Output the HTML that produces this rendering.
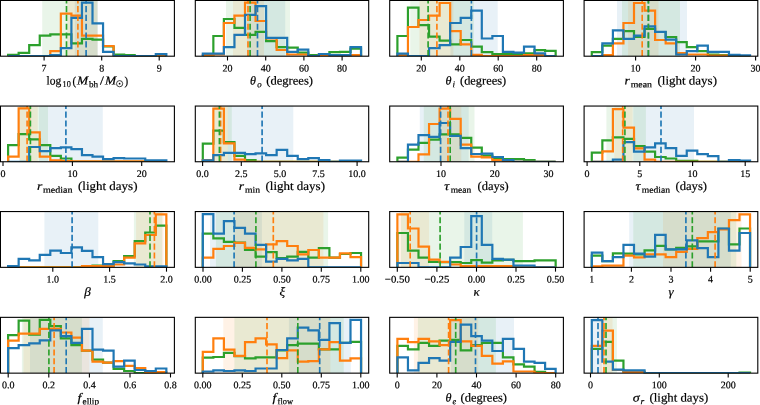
<!DOCTYPE html>
<html><head><meta charset="utf-8"><title>posterior histograms</title>
<style>
html,body{margin:0;padding:0;background:#fff;}
body{width:760px;height:405px;overflow:hidden;}
svg{display:block;font-family:"Liberation Serif",serif;fill:#000;}
svg text{fill:#000;stroke:#000;stroke-width:0.2px;filter:grayscale(1);}
</style></head><body>
<svg width="760" height="405" viewBox="0 0 760 405">
<rect x="0" y="0" width="760" height="405" fill="#fff"/>
<defs>
<clipPath id="c00"><rect x="0.45" y="0.45" width="173.95" height="55.75"/></clipPath>
<clipPath id="c01"><rect x="195.3" y="0.45" width="173.4" height="55.75"/></clipPath>
<clipPath id="c02"><rect x="389.7" y="0.45" width="173.7" height="55.75"/></clipPath>
<clipPath id="c03"><rect x="584.1" y="0.45" width="173.7" height="55.75"/></clipPath>
<clipPath id="c10"><rect x="0.45" y="106.05" width="173.95" height="55.7"/></clipPath>
<clipPath id="c11"><rect x="195.3" y="106.05" width="173.4" height="55.7"/></clipPath>
<clipPath id="c12"><rect x="389.7" y="106.05" width="173.7" height="55.7"/></clipPath>
<clipPath id="c13"><rect x="584.1" y="106.05" width="173.7" height="55.7"/></clipPath>
<clipPath id="c20"><rect x="0.45" y="211.55" width="173.95" height="55.8"/></clipPath>
<clipPath id="c21"><rect x="195.3" y="211.55" width="173.4" height="55.8"/></clipPath>
<clipPath id="c22"><rect x="389.7" y="211.55" width="173.7" height="55.8"/></clipPath>
<clipPath id="c23"><rect x="584.1" y="211.55" width="173.7" height="55.8"/></clipPath>
<clipPath id="c30"><rect x="0.45" y="317.35" width="173.95" height="55.8"/></clipPath>
<clipPath id="c31"><rect x="195.3" y="317.35" width="173.4" height="55.8"/></clipPath>
<clipPath id="c32"><rect x="389.7" y="317.35" width="173.7" height="55.8"/></clipPath>
<clipPath id="c33"><rect x="584.1" y="317.35" width="173.7" height="55.8"/></clipPath>
</defs>
<g clip-path="url(#c00)">
<rect x="74.8" y="0.45" width="22.9" height="55.75" fill="#1f77b4" fill-opacity="0.1"/>
<rect x="67.4" y="0.45" width="30.2" height="55.75" fill="#ff7f0e" fill-opacity="0.1"/>
<rect x="42.2" y="0.45" width="55.3" height="55.75" fill="#2ca02c" fill-opacity="0.1"/>
<path d="M8.1 56.2 L8.1 54.8 L18.65 54.8 L18.65 52.9 L29.2 52.9 L29.2 45.2 L39.75 45.2 L39.75 35.6 L50.3 35.6 L50.3 34.4 L60.85 34.4 L60.85 34.4 L71.4 34.4 L71.4 43.3 L81.95 43.3 L81.95 38.8 L92.5 38.8 L92.5 39.7 L103.05 39.7 L103.05 46.5 L113.6 46.5 L113.6 54.6 L124.15 54.6 L124.15 55.1 L134.7 55.1 L134.7 56.2 L145.25 56.2 L145.25 56.2 L155.8 56.2 L155.8 56.2 L166.35 56.2 L166.35 56.2" fill="none" stroke="#2ca02c" stroke-width="2.2" stroke-linejoin="miter"/>
<path d="M8.1 56.2 L8.1 56.2 L18.65 56.2 L18.65 56.2 L29.2 56.2 L29.2 56.2 L39.75 56.2 L39.75 56.2 L50.3 56.2 L50.3 51.1 L60.85 51.1 L60.85 13.6 L71.4 13.6 L71.4 15.6 L81.95 15.6 L81.95 35.6 L92.5 35.6 L92.5 35.6 L103.05 35.6 L103.05 46 L113.6 46 L113.6 56.2 L124.15 56.2 L124.15 56.2 L134.7 56.2 L134.7 56.2 L145.25 56.2 L145.25 56.2 L155.8 56.2 L155.8 56.2 L166.35 56.2 L166.35 56.2" fill="none" stroke="#ff7f0e" stroke-width="2.2" stroke-linejoin="miter"/>
<path d="M8.1 56.2 L8.1 56.2 L18.65 56.2 L18.65 56.2 L29.2 56.2 L29.2 56.2 L39.75 56.2 L39.75 56.2 L50.3 56.2 L50.3 55.1 L60.85 55.1 L60.85 48.1 L71.4 48.1 L71.4 17.8 L81.95 17.8 L81.95 2.7 L92.5 2.7 L92.5 23.4 L103.05 23.4 L103.05 51.9 L113.6 51.9 L113.6 56.2 L124.15 56.2 L124.15 56.2 L134.7 56.2 L134.7 56.2 L145.25 56.2 L145.25 56.2 L155.8 56.2 L155.8 54.1 L166.35 54.1 L166.35 56.2" fill="none" stroke="#1f77b4" stroke-width="2.2" stroke-linejoin="miter"/>
<line x1="86.1" y1="56.2" x2="86.1" y2="0.45" stroke="#1f77b4" stroke-width="1.66" stroke-dasharray="6.14 2.66"/>
<line x1="77.9" y1="56.2" x2="77.9" y2="0.45" stroke="#ff7f0e" stroke-width="1.66" stroke-dasharray="6.14 2.66"/>
<line x1="66.5" y1="56.2" x2="66.5" y2="0.45" stroke="#2ca02c" stroke-width="1.66" stroke-dasharray="6.14 2.66"/>
</g>
<rect x="0.45" y="0.45" width="173.95" height="55.75" fill="none" stroke="#000" stroke-width="1.1"/>
<line x1="44.1" y1="56.2" x2="44.1" y2="60.5" stroke="#000" stroke-width="1.1"/>
<text x="44.1" y="71.4" font-size="10.0" text-anchor="middle" transform="rotate(0.03 44.1 71.4)">7</text>
<line x1="101.7" y1="56.2" x2="101.7" y2="60.5" stroke="#000" stroke-width="1.1"/>
<text x="101.7" y="71.4" font-size="10.0" text-anchor="middle" transform="rotate(0.03 101.7 71.4)">8</text>
<line x1="159.2" y1="56.2" x2="159.2" y2="60.5" stroke="#000" stroke-width="1.1"/>
<text x="159.2" y="71.4" font-size="10.0" text-anchor="middle" transform="rotate(0.03 159.2 71.4)">9</text>
<text x="46.6" y="84.5" font-size="12.2" textLength="14.8" lengthAdjust="spacingAndGlyphs" transform="rotate(0.03 46.6 84.5)" xml:space="preserve">log</text>
<text x="62.6" y="87.31" font-size="8.91" textLength="8.2" lengthAdjust="spacingAndGlyphs" transform="rotate(0.03 62.6 87.31)" xml:space="preserve">10</text>
<text x="72.52" y="84.5" font-size="12.2" textLength="3.66" lengthAdjust="spacingAndGlyphs" transform="rotate(0.03 72.52 84.5)" xml:space="preserve">(</text>
<text x="77" y="84.5" font-size="12.2" font-style="italic" textLength="11.2" lengthAdjust="spacingAndGlyphs" transform="rotate(0.03 77 84.5)" xml:space="preserve">M</text>
<text x="89" y="87.31" font-size="8.91" textLength="9.2" lengthAdjust="spacingAndGlyphs" transform="rotate(0.03 89 87.31)" xml:space="preserve">bh</text>
<text x="99.95" y="84.5" font-size="12.2" textLength="3.9" lengthAdjust="spacingAndGlyphs" transform="rotate(0.03 99.95 84.5)" xml:space="preserve">/</text>
<text x="104.9" y="84.5" font-size="12.2" font-style="italic" textLength="11.2" lengthAdjust="spacingAndGlyphs" transform="rotate(0.03 104.9 84.5)" xml:space="preserve">M</text>
<circle cx="119.6" cy="83.7" r="3.1" fill="none" stroke="#000" stroke-width="0.75"/><circle cx="119.6" cy="83.7" r="0.85" fill="#000"/>
<text x="124.42" y="84.5" font-size="12.2" textLength="3.66" lengthAdjust="spacingAndGlyphs" transform="rotate(0.03 124.42 84.5)" xml:space="preserve">)</text>
<g clip-path="url(#c01)">
<rect x="247" y="0.45" width="38.2" height="55.75" fill="#1f77b4" fill-opacity="0.1"/>
<rect x="233" y="0.45" width="31" height="55.75" fill="#ff7f0e" fill-opacity="0.1"/>
<rect x="226" y="0.45" width="64" height="55.75" fill="#2ca02c" fill-opacity="0.1"/>
<path d="M202.8 56.2 L202.8 56.2 L213.35 56.2 L213.35 36 L223.9 36 L223.9 19 L234.45 19 L234.45 27.9 L245 27.9 L245 34.8 L255.55 34.8 L255.55 31.9 L266.1 31.9 L266.1 41.2 L276.65 41.2 L276.65 47.1 L287.2 47.1 L287.2 47.7 L297.75 47.7 L297.75 52.6 L308.3 52.6 L308.3 55 L318.85 55 L318.85 55.2 L329.4 55.2 L329.4 52.1 L339.95 52.1 L339.95 51.9 L350.5 51.9 L350.5 48.6 L361.05 48.6 L361.05 56.2" fill="none" stroke="#2ca02c" stroke-width="2.2" stroke-linejoin="miter"/>
<path d="M202.8 56.2 L202.8 55.1 L213.35 55.1 L213.35 54.5 L223.9 54.5 L223.9 23 L234.45 23 L234.45 15.6 L245 15.6 L245 2.7 L255.55 2.7 L255.55 21 L266.1 21 L266.1 38.5 L276.65 38.5 L276.65 50 L287.2 50 L287.2 54.5 L297.75 54.5 L297.75 54.5 L308.3 54.5 L308.3 56.2 L318.85 56.2 L318.85 55.2 L329.4 55.2 L329.4 56.2 L339.95 56.2 L339.95 56.2 L350.5 56.2 L350.5 55.2 L361.05 55.2 L361.05 56.2" fill="none" stroke="#ff7f0e" stroke-width="2.2" stroke-linejoin="miter"/>
<path d="M202.8 56.2 L202.8 53.6 L213.35 53.6 L213.35 53.6 L223.9 53.6 L223.9 47.1 L234.45 47.1 L234.45 34.8 L245 34.8 L245 14.8 L255.55 14.8 L255.55 6.2 L266.1 6.2 L266.1 37.8 L276.65 37.8 L276.65 37.8 L287.2 37.8 L287.2 51.9 L297.75 51.9 L297.75 49.6 L308.3 49.6 L308.3 56.2 L318.85 56.2 L318.85 54 L329.4 54 L329.4 55.1 L339.95 55.1 L339.95 55.1 L350.5 55.1 L350.5 47.1 L361.05 47.1 L361.05 56.2" fill="none" stroke="#1f77b4" stroke-width="2.2" stroke-linejoin="miter"/>
<line x1="257.5" y1="56.2" x2="257.5" y2="0.45" stroke="#1f77b4" stroke-width="1.66" stroke-dasharray="6.14 2.66"/>
<line x1="248" y1="56.2" x2="248" y2="0.45" stroke="#ff7f0e" stroke-width="1.66" stroke-dasharray="6.14 2.66"/>
<line x1="250.1" y1="56.2" x2="250.1" y2="0.45" stroke="#2ca02c" stroke-width="1.66" stroke-dasharray="6.14 2.66"/>
</g>
<rect x="195.3" y="0.45" width="173.4" height="55.75" fill="none" stroke="#000" stroke-width="1.1"/>
<line x1="227.5" y1="56.2" x2="227.5" y2="60.5" stroke="#000" stroke-width="1.1"/>
<text x="227.5" y="71.4" font-size="10.0" text-anchor="middle" transform="rotate(0.03 227.5 71.4)">20</text>
<line x1="265.7" y1="56.2" x2="265.7" y2="60.5" stroke="#000" stroke-width="1.1"/>
<text x="265.7" y="71.4" font-size="10.0" text-anchor="middle" transform="rotate(0.03 265.7 71.4)">40</text>
<line x1="303.9" y1="56.2" x2="303.9" y2="60.5" stroke="#000" stroke-width="1.1"/>
<text x="303.9" y="71.4" font-size="10.0" text-anchor="middle" transform="rotate(0.03 303.9 71.4)">60</text>
<line x1="342.1" y1="56.2" x2="342.1" y2="60.5" stroke="#000" stroke-width="1.1"/>
<text x="342.1" y="71.4" font-size="10.0" text-anchor="middle" transform="rotate(0.03 342.1 71.4)">80</text>
<text x="250" y="84.5" font-size="12.2" font-style="italic" textLength="6" lengthAdjust="spacingAndGlyphs" transform="rotate(0.03 250 84.5)" xml:space="preserve">θ</text>
<text x="257.3" y="87.31" font-size="8.91" font-style="italic" textLength="4.4" lengthAdjust="spacingAndGlyphs" transform="rotate(0.03 257.3 87.31)" xml:space="preserve">o</text>
<text x="266.2" y="84.5" font-size="12.2" textLength="46.8" lengthAdjust="spacingAndGlyphs" transform="rotate(0.03 266.2 84.5)" xml:space="preserve">(degrees)</text>
<g clip-path="url(#c02)">
<rect x="450.5" y="0.45" width="47.2" height="55.75" fill="#1f77b4" fill-opacity="0.1"/>
<rect x="419.4" y="0.45" width="34" height="55.75" fill="#ff7f0e" fill-opacity="0.1"/>
<rect x="410.2" y="0.45" width="63.7" height="55.75" fill="#2ca02c" fill-opacity="0.1"/>
<path d="M397.4 56.2 L397.4 36 L407.95 36 L407.95 7.7 L418.5 7.7 L418.5 25.2 L429.05 25.2 L429.05 36.7 L439.6 36.7 L439.6 40.7 L450.15 40.7 L450.15 44.4 L460.7 44.4 L460.7 40 L471.25 40 L471.25 46.7 L481.8 46.7 L481.8 52.1 L492.35 52.1 L492.35 54.1 L502.9 54.1 L502.9 54.1 L513.45 54.1 L513.45 54.1 L524 54.1 L524 53.3 L534.55 53.3 L534.55 50.1 L545.1 50.1 L545.1 50.8 L555.65 50.8 L555.65 56.2" fill="none" stroke="#2ca02c" stroke-width="2.2" stroke-linejoin="miter"/>
<path d="M397.4 56.2 L397.4 55.1 L407.95 55.1 L407.95 27 L418.5 27 L418.5 20 L429.05 20 L429.05 15.6 L439.6 15.6 L439.6 3 L450.15 3 L450.15 31.1 L460.7 31.1 L460.7 44.4 L471.25 44.4 L471.25 54.8 L481.8 54.8 L481.8 56.2 L492.35 56.2 L492.35 56.2 L502.9 56.2 L502.9 56.2 L513.45 56.2 L513.45 56.2 L524 56.2 L524 55.2 L534.55 55.2 L534.55 55.2 L545.1 55.2 L545.1 56.2 L555.65 56.2 L555.65 56.2" fill="none" stroke="#ff7f0e" stroke-width="2.2" stroke-linejoin="miter"/>
<path d="M397.4 56.2 L397.4 53.6 L407.95 53.6 L407.95 56.2 L418.5 56.2 L418.5 56.2 L429.05 56.2 L429.05 48.1 L439.6 48.1 L439.6 45.2 L450.15 45.2 L450.15 23 L460.7 23 L460.7 17.8 L471.25 17.8 L471.25 10.7 L481.8 10.7 L481.8 38.5 L492.35 38.5 L492.35 36 L502.9 36 L502.9 51.9 L513.45 51.9 L513.45 52.6 L524 52.6 L524 46.7 L534.55 46.7 L534.55 53.3 L545.1 53.3 L545.1 56.2 L555.65 56.2 L555.65 56.2" fill="none" stroke="#1f77b4" stroke-width="2.2" stroke-linejoin="miter"/>
<line x1="471.4" y1="56.2" x2="471.4" y2="0.45" stroke="#1f77b4" stroke-width="1.66" stroke-dasharray="6.14 2.66"/>
<line x1="436.9" y1="56.2" x2="436.9" y2="0.45" stroke="#ff7f0e" stroke-width="1.66" stroke-dasharray="6.14 2.66"/>
<line x1="428.1" y1="56.2" x2="428.1" y2="0.45" stroke="#2ca02c" stroke-width="1.66" stroke-dasharray="6.14 2.66"/>
</g>
<rect x="389.7" y="0.45" width="173.7" height="55.75" fill="none" stroke="#000" stroke-width="1.1"/>
<line x1="421.3" y1="56.2" x2="421.3" y2="60.5" stroke="#000" stroke-width="1.1"/>
<text x="421.3" y="71.4" font-size="10.0" text-anchor="middle" transform="rotate(0.03 421.3 71.4)">20</text>
<line x1="459.8" y1="56.2" x2="459.8" y2="60.5" stroke="#000" stroke-width="1.1"/>
<text x="459.8" y="71.4" font-size="10.0" text-anchor="middle" transform="rotate(0.03 459.8 71.4)">40</text>
<line x1="498.2" y1="56.2" x2="498.2" y2="60.5" stroke="#000" stroke-width="1.1"/>
<text x="498.2" y="71.4" font-size="10.0" text-anchor="middle" transform="rotate(0.03 498.2 71.4)">60</text>
<line x1="536.7" y1="56.2" x2="536.7" y2="60.5" stroke="#000" stroke-width="1.1"/>
<text x="536.7" y="71.4" font-size="10.0" text-anchor="middle" transform="rotate(0.03 536.7 71.4)">80</text>
<text x="445.5" y="84.5" font-size="12.2" font-style="italic" textLength="6" lengthAdjust="spacingAndGlyphs" transform="rotate(0.03 445.5 84.5)" xml:space="preserve">θ</text>
<text x="452.5" y="87.31" font-size="8.91" font-style="italic" textLength="2.5" lengthAdjust="spacingAndGlyphs" transform="rotate(0.03 452.5 87.31)" xml:space="preserve">i</text>
<text x="460" y="84.5" font-size="12.2" textLength="46.2" lengthAdjust="spacingAndGlyphs" transform="rotate(0.03 460 84.5)" xml:space="preserve">(degrees)</text>
<g clip-path="url(#c03)">
<rect x="617" y="0.45" width="70" height="55.75" fill="#1f77b4" fill-opacity="0.1"/>
<rect x="628.1" y="0.45" width="30.4" height="55.75" fill="#ff7f0e" fill-opacity="0.1"/>
<rect x="622" y="0.45" width="58" height="55.75" fill="#2ca02c" fill-opacity="0.1"/>
<path d="M591.8 56.2 L591.8 52.1 L602.35 52.1 L602.35 45.6 L612.9 45.6 L612.9 38.8 L623.45 38.8 L623.45 31.1 L634 31.1 L634 37 L644.55 37 L644.55 28.9 L655.1 28.9 L655.1 32 L665.65 32 L665.65 37 L676.2 37 L676.2 42.2 L686.75 42.2 L686.75 47.1 L697.3 47.1 L697.3 51.1 L707.85 51.1 L707.85 54.5 L718.4 54.5 L718.4 55.2 L728.95 55.2 L728.95 56.2 L739.5 56.2 L739.5 56.2 L750.05 56.2 L750.05 56.2" fill="none" stroke="#2ca02c" stroke-width="2.2" stroke-linejoin="miter"/>
<path d="M591.8 56.2 L591.8 56.2 L602.35 56.2 L602.35 55.1 L612.9 55.1 L612.9 43.3 L623.45 43.3 L623.45 23 L634 23 L634 3 L644.55 3 L644.55 10.7 L655.1 10.7 L655.1 40 L665.65 40 L665.65 43.3 L676.2 43.3 L676.2 53 L686.75 53 L686.75 54.5 L697.3 54.5 L697.3 54.5 L707.85 54.5 L707.85 55.5 L718.4 55.5 L718.4 55.5 L728.95 55.5 L728.95 56.2 L739.5 56.2 L739.5 56.2 L750.05 56.2 L750.05 56.2" fill="none" stroke="#ff7f0e" stroke-width="2.2" stroke-linejoin="miter"/>
<path d="M591.8 56.2 L591.8 56.2 L602.35 56.2 L602.35 43.3 L612.9 43.3 L612.9 30.4 L623.45 30.4 L623.45 38.8 L634 38.8 L634 35.6 L644.55 35.6 L644.55 26.4 L655.1 26.4 L655.1 31.9 L665.65 31.9 L665.65 39.7 L676.2 39.7 L676.2 54.5 L686.75 54.5 L686.75 51.1 L697.3 51.1 L697.3 45.6 L707.85 45.6 L707.85 51.9 L718.4 51.9 L718.4 51.9 L728.95 51.9 L728.95 54.8 L739.5 54.8 L739.5 55.4 L750.05 55.4 L750.05 56.2" fill="none" stroke="#1f77b4" stroke-width="2.2" stroke-linejoin="miter"/>
<line x1="648.4" y1="56.2" x2="648.4" y2="0.45" stroke="#1f77b4" stroke-width="1.66" stroke-dasharray="6.14 2.66"/>
<line x1="642.2" y1="56.2" x2="642.2" y2="0.45" stroke="#ff7f0e" stroke-width="1.66" stroke-dasharray="6.14 2.66"/>
<line x1="648.4" y1="56.2" x2="648.4" y2="0.45" stroke="#2ca02c" stroke-width="1.66" stroke-dasharray="6.14 2.66"/>
</g>
<rect x="584.1" y="0.45" width="173.7" height="55.75" fill="none" stroke="#000" stroke-width="1.1"/>
<line x1="635.6" y1="56.2" x2="635.6" y2="60.5" stroke="#000" stroke-width="1.1"/>
<text x="635.6" y="71.4" font-size="10.0" text-anchor="middle" transform="rotate(0.03 635.6 71.4)">10</text>
<line x1="695.6" y1="56.2" x2="695.6" y2="60.5" stroke="#000" stroke-width="1.1"/>
<text x="695.6" y="71.4" font-size="10.0" text-anchor="middle" transform="rotate(0.03 695.6 71.4)">20</text>
<line x1="755.6" y1="56.2" x2="755.6" y2="60.5" stroke="#000" stroke-width="1.1"/>
<text x="755.6" y="71.4" font-size="10.0" text-anchor="middle" transform="rotate(0.03 755.6 71.4)">30</text>
<text x="624.5" y="84.5" font-size="12.2" font-style="italic" textLength="5.3" lengthAdjust="spacingAndGlyphs" transform="rotate(0.03 624.5 84.5)" xml:space="preserve">r</text>
<text x="630.7" y="87.31" font-size="8.91" textLength="21.3" lengthAdjust="spacingAndGlyphs" transform="rotate(0.03 630.7 87.31)" xml:space="preserve">mean</text>
<text x="657.5" y="84.5" font-size="12.2" textLength="59.5" lengthAdjust="spacingAndGlyphs" transform="rotate(0.03 657.5 84.5)" xml:space="preserve">(light days)</text>
<g clip-path="url(#c10)">
<rect x="38.9" y="106.05" width="63.9" height="55.7" fill="#1f77b4" fill-opacity="0.1"/>
<rect x="19.5" y="106.05" width="18.3" height="55.7" fill="#ff7f0e" fill-opacity="0.1"/>
<rect x="19.5" y="106.05" width="28.5" height="55.7" fill="#2ca02c" fill-opacity="0.1"/>
<path d="M8.1 161.75 L8.1 145.2 L18.65 145.2 L18.65 134.1 L29.2 134.1 L29.2 139.3 L39.75 139.3 L39.75 145.2 L50.3 145.2 L50.3 155.9 L60.85 155.9 L60.85 158.5 L71.4 158.5 L71.4 161.75 L81.95 161.75 L81.95 161.75 L92.5 161.75 L92.5 161.75 L103.05 161.75 L103.05 161.75 L113.6 161.75 L113.6 161.75 L124.15 161.75 L124.15 161.75 L134.7 161.75 L134.7 161.75 L145.25 161.75 L145.25 161.75 L155.8 161.75 L155.8 161.75 L166.35 161.75 L166.35 161.75" fill="none" stroke="#2ca02c" stroke-width="2.2" stroke-linejoin="miter"/>
<path d="M8.1 161.75 L8.1 156.6 L18.65 156.6 L18.65 108.4 L29.2 108.4 L29.2 132.4 L39.75 132.4 L39.75 156.6 L50.3 156.6 L50.3 160.3 L60.85 160.3 L60.85 161.2 L71.4 161.2 L71.4 161.3 L81.95 161.3 L81.95 161.3 L92.5 161.3 L92.5 161.3 L103.05 161.3 L103.05 161.3 L113.6 161.3 L113.6 161.3 L124.15 161.3 L124.15 161.3 L134.7 161.3 L134.7 161.3 L145.25 161.3 L145.25 161.75 L155.8 161.75 L155.8 161.75 L166.35 161.75 L166.35 161.75" fill="none" stroke="#ff7f0e" stroke-width="2.2" stroke-linejoin="miter"/>
<path d="M8.1 161.75 L8.1 161.75 L18.65 161.75 L18.65 161.75 L29.2 161.75 L29.2 147 L39.75 147 L39.75 151.1 L50.3 151.1 L50.3 148.1 L60.85 148.1 L60.85 147.3 L71.4 147.3 L71.4 149.2 L81.95 149.2 L81.95 155.1 L92.5 155.1 L92.5 156.6 L103.05 156.6 L103.05 159.1 L113.6 159.1 L113.6 158.1 L124.15 158.1 L124.15 158.5 L134.7 158.5 L134.7 158.5 L145.25 158.5 L145.25 160.3 L155.8 160.3 L155.8 160.3 L166.35 160.3 L166.35 161.75" fill="none" stroke="#1f77b4" stroke-width="2.2" stroke-linejoin="miter"/>
<line x1="65.9" y1="161.75" x2="65.9" y2="106.05" stroke="#1f77b4" stroke-width="1.66" stroke-dasharray="6.14 2.66"/>
<line x1="27.1" y1="161.75" x2="27.1" y2="106.05" stroke="#ff7f0e" stroke-width="1.66" stroke-dasharray="6.14 2.66"/>
<line x1="30.4" y1="161.75" x2="30.4" y2="106.05" stroke="#2ca02c" stroke-width="1.66" stroke-dasharray="6.14 2.66"/>
</g>
<rect x="0.45" y="106.05" width="173.95" height="55.7" fill="none" stroke="#000" stroke-width="1.1"/>
<line x1="3" y1="161.75" x2="3" y2="166.05" stroke="#000" stroke-width="1.1"/>
<text x="3" y="176.95" font-size="10.0" text-anchor="middle" transform="rotate(0.03 3 176.95)">0</text>
<line x1="72.4" y1="161.75" x2="72.4" y2="166.05" stroke="#000" stroke-width="1.1"/>
<text x="72.4" y="176.95" font-size="10.0" text-anchor="middle" transform="rotate(0.03 72.4 176.95)">10</text>
<line x1="141.7" y1="161.75" x2="141.7" y2="166.05" stroke="#000" stroke-width="1.1"/>
<text x="141.7" y="176.95" font-size="10.0" text-anchor="middle" transform="rotate(0.03 141.7 176.95)">20</text>
<text x="37" y="190.05" font-size="12.2" font-style="italic" textLength="5.3" lengthAdjust="spacingAndGlyphs" transform="rotate(0.03 37 190.05)" xml:space="preserve">r</text>
<text x="43" y="192.86" font-size="8.91" textLength="29.5" lengthAdjust="spacingAndGlyphs" transform="rotate(0.03 43 192.86)" xml:space="preserve">median</text>
<text x="78" y="190.05" font-size="12.2" textLength="59.5" lengthAdjust="spacingAndGlyphs" transform="rotate(0.03 78 190.05)" xml:space="preserve">(light days)</text>
<g clip-path="url(#c11)">
<rect x="227.9" y="106.05" width="65.4" height="55.7" fill="#1f77b4" fill-opacity="0.1"/>
<rect x="214.4" y="106.05" width="13.6" height="55.7" fill="#ff7f0e" fill-opacity="0.1"/>
<rect x="213.5" y="106.05" width="18.3" height="55.7" fill="#2ca02c" fill-opacity="0.1"/>
<path d="M202.8 161.75 L202.8 143.7 L213.35 143.7 L213.35 130.7 L223.9 130.7 L223.9 142.2 L234.45 142.2 L234.45 155.9 L245 155.9 L245 160 L255.55 160 L255.55 161.75 L266.1 161.75 L266.1 161.75 L276.65 161.75 L276.65 161.75 L287.2 161.75 L287.2 161.75 L297.75 161.75 L297.75 161.75 L308.3 161.75 L308.3 161.75 L318.85 161.75 L318.85 161.75 L329.4 161.75 L329.4 161.75 L339.95 161.75 L339.95 161.75 L350.5 161.75 L350.5 161.75 L361.05 161.75 L361.05 161.75" fill="none" stroke="#2ca02c" stroke-width="2.2" stroke-linejoin="miter"/>
<path d="M202.8 161.75 L202.8 160 L213.35 160 L213.35 108.7 L223.9 108.7 L223.9 143.3 L234.45 143.3 L234.45 159.6 L245 159.6 L245 161.75 L255.55 161.75 L255.55 161.75 L266.1 161.75 L266.1 161.75 L276.65 161.75 L276.65 161.75 L287.2 161.75 L287.2 161.75 L297.75 161.75 L297.75 161.75 L308.3 161.75 L308.3 161.75 L318.85 161.75 L318.85 161.75 L329.4 161.75 L329.4 161.75 L339.95 161.75 L339.95 161.75 L350.5 161.75 L350.5 161.75 L361.05 161.75 L361.05 161.75" fill="none" stroke="#ff7f0e" stroke-width="2.2" stroke-linejoin="miter"/>
<path d="M202.8 161.75 L202.8 160.3 L213.35 160.3 L213.35 155.1 L223.9 155.1 L223.9 152.9 L234.45 152.9 L234.45 152.9 L245 152.9 L245 154.1 L255.55 154.1 L255.55 153.3 L266.1 153.3 L266.1 155.1 L276.65 155.1 L276.65 149.9 L287.2 149.9 L287.2 155.9 L297.75 155.9 L297.75 159.1 L308.3 159.1 L308.3 158.1 L318.85 158.1 L318.85 160 L329.4 160 L329.4 161.75 L339.95 161.75 L339.95 160.5 L350.5 160.5 L350.5 160.5 L361.05 160.5 L361.05 161.75" fill="none" stroke="#1f77b4" stroke-width="2.2" stroke-linejoin="miter"/>
<line x1="262.1" y1="161.75" x2="262.1" y2="106.05" stroke="#1f77b4" stroke-width="1.66" stroke-dasharray="6.14 2.66"/>
<line x1="220.6" y1="161.75" x2="220.6" y2="106.05" stroke="#ff7f0e" stroke-width="1.66" stroke-dasharray="6.14 2.66"/>
<line x1="219.4" y1="161.75" x2="219.4" y2="106.05" stroke="#2ca02c" stroke-width="1.66" stroke-dasharray="6.14 2.66"/>
</g>
<rect x="195.3" y="106.05" width="173.4" height="55.7" fill="none" stroke="#000" stroke-width="1.1"/>
<line x1="202.6" y1="161.75" x2="202.6" y2="166.05" stroke="#000" stroke-width="1.1"/>
<text x="202.6" y="176.95" font-size="10.0" text-anchor="middle" transform="rotate(0.03 202.6 176.95)">0.0</text>
<line x1="241.3" y1="161.75" x2="241.3" y2="166.05" stroke="#000" stroke-width="1.1"/>
<text x="241.3" y="176.95" font-size="10.0" text-anchor="middle" transform="rotate(0.03 241.3 176.95)">2.5</text>
<line x1="279.9" y1="161.75" x2="279.9" y2="166.05" stroke="#000" stroke-width="1.1"/>
<text x="279.9" y="176.95" font-size="10.0" text-anchor="middle" transform="rotate(0.03 279.9 176.95)">5.0</text>
<line x1="318.5" y1="161.75" x2="318.5" y2="166.05" stroke="#000" stroke-width="1.1"/>
<text x="318.5" y="176.95" font-size="10.0" text-anchor="middle" transform="rotate(0.03 318.5 176.95)">7.5</text>
<line x1="357.1" y1="161.75" x2="357.1" y2="166.05" stroke="#000" stroke-width="1.1"/>
<text x="357.1" y="176.95" font-size="10.0" text-anchor="middle" transform="rotate(0.03 357.1 176.95)">10.0</text>
<text x="238.7" y="190.05" font-size="12.2" font-style="italic" textLength="5.3" lengthAdjust="spacingAndGlyphs" transform="rotate(0.03 238.7 190.05)" xml:space="preserve">r</text>
<text x="245" y="192.86" font-size="8.91" textLength="15" lengthAdjust="spacingAndGlyphs" transform="rotate(0.03 245 192.86)" xml:space="preserve">min</text>
<text x="265.5" y="190.05" font-size="12.2" textLength="59.5" lengthAdjust="spacingAndGlyphs" transform="rotate(0.03 265.5 190.05)" xml:space="preserve">(light days)</text>
<g clip-path="url(#c12)">
<rect x="419.8" y="106.05" width="48.9" height="55.7" fill="#1f77b4" fill-opacity="0.1"/>
<rect x="439" y="106.05" width="22.3" height="55.7" fill="#ff7f0e" fill-opacity="0.1"/>
<rect x="423.8" y="106.05" width="50.7" height="55.7" fill="#2ca02c" fill-opacity="0.1"/>
<path d="M397.4 161.75 L397.4 157.6 L407.95 157.6 L407.95 149.6 L418.5 149.6 L418.5 142.8 L429.05 142.8 L429.05 139.6 L439.6 139.6 L439.6 134.4 L450.15 134.4 L450.15 134.4 L460.7 134.4 L460.7 137.8 L471.25 137.8 L471.25 147.7 L481.8 147.7 L481.8 155.6 L492.35 155.6 L492.35 158.5 L502.9 158.5 L502.9 159.1 L513.45 159.1 L513.45 159.1 L524 159.1 L524 160 L534.55 160 L534.55 161.75 L545.1 161.75 L545.1 161.75 L555.65 161.75 L555.65 161.75" fill="none" stroke="#2ca02c" stroke-width="2.2" stroke-linejoin="miter"/>
<path d="M397.4 161.75 L397.4 161.75 L407.95 161.75 L407.95 161.75 L418.5 161.75 L418.5 154.4 L429.05 154.4 L429.05 124 L439.6 124 L439.6 108.7 L450.15 108.7 L450.15 118.8 L460.7 118.8 L460.7 144.7 L471.25 144.7 L471.25 156.6 L481.8 156.6 L481.8 157.3 L492.35 157.3 L492.35 160 L502.9 160 L502.9 161.75 L513.45 161.75 L513.45 161.75 L524 161.75 L524 161.75 L534.55 161.75 L534.55 161.75 L545.1 161.75 L545.1 161.75 L555.65 161.75 L555.65 161.75" fill="none" stroke="#ff7f0e" stroke-width="2.2" stroke-linejoin="miter"/>
<path d="M397.4 161.75 L397.4 161.75 L407.95 161.75 L407.95 144.7 L418.5 144.7 L418.5 135.1 L429.05 135.1 L429.05 136.9 L439.6 136.9 L439.6 123 L450.15 123 L450.15 135.9 L460.7 135.9 L460.7 148.1 L471.25 148.1 L471.25 154 L481.8 154 L481.8 153.6 L492.35 153.6 L492.35 157 L502.9 157 L502.9 160 L513.45 160 L513.45 161.75 L524 161.75 L524 161.75 L534.55 161.75 L534.55 161.75 L545.1 161.75 L545.1 161.75 L555.65 161.75 L555.65 161.75" fill="none" stroke="#1f77b4" stroke-width="2.2" stroke-linejoin="miter"/>
<line x1="440.6" y1="161.75" x2="440.6" y2="106.05" stroke="#1f77b4" stroke-width="1.66" stroke-dasharray="6.14 2.66"/>
<line x1="448" y1="161.75" x2="448" y2="106.05" stroke="#ff7f0e" stroke-width="1.66" stroke-dasharray="6.14 2.66"/>
<line x1="450.2" y1="161.75" x2="450.2" y2="106.05" stroke="#2ca02c" stroke-width="1.66" stroke-dasharray="6.14 2.66"/>
</g>
<rect x="389.7" y="106.05" width="173.7" height="55.7" fill="none" stroke="#000" stroke-width="1.1"/>
<line x1="441" y1="161.75" x2="441" y2="166.05" stroke="#000" stroke-width="1.1"/>
<text x="441" y="176.95" font-size="10.0" text-anchor="middle" transform="rotate(0.03 441 176.95)">10</text>
<line x1="494.8" y1="161.75" x2="494.8" y2="166.05" stroke="#000" stroke-width="1.1"/>
<text x="494.8" y="176.95" font-size="10.0" text-anchor="middle" transform="rotate(0.03 494.8 176.95)">20</text>
<line x1="548.6" y1="161.75" x2="548.6" y2="166.05" stroke="#000" stroke-width="1.1"/>
<text x="548.6" y="176.95" font-size="10.0" text-anchor="middle" transform="rotate(0.03 548.6 176.95)">30</text>
<text x="444.24" y="190.05" font-size="12.2" font-style="italic" textLength="5.02" lengthAdjust="spacingAndGlyphs" transform="rotate(0.03 444.24 190.05)" xml:space="preserve">τ</text>
<text x="450.7" y="192.86" font-size="8.91" textLength="20.5" lengthAdjust="spacingAndGlyphs" transform="rotate(0.03 450.7 192.86)" xml:space="preserve">mean</text>
<text x="477.5" y="190.05" font-size="12.2" textLength="31.2" lengthAdjust="spacingAndGlyphs" transform="rotate(0.03 477.5 190.05)" xml:space="preserve">(days)</text>
<g clip-path="url(#c13)">
<rect x="633.3" y="106.05" width="60.7" height="55.7" fill="#1f77b4" fill-opacity="0.1"/>
<rect x="614.4" y="106.05" width="18.2" height="55.7" fill="#ff7f0e" fill-opacity="0.1"/>
<rect x="606.4" y="106.05" width="39.5" height="55.7" fill="#2ca02c" fill-opacity="0.1"/>
<path d="M591.8 161.75 L591.8 152.6 L602.35 152.6 L602.35 140.3 L612.9 140.3 L612.9 137.3 L623.45 137.3 L623.45 138.8 L634 138.8 L634 146.2 L644.55 146.2 L644.55 151.7 L655.1 151.7 L655.1 157 L665.65 157 L665.65 158.5 L676.2 158.5 L676.2 160.9 L686.75 160.9 L686.75 160.9 L697.3 160.9 L697.3 161.75 L707.85 161.75 L707.85 161.75 L718.4 161.75 L718.4 161.75 L728.95 161.75 L728.95 161.75 L739.5 161.75 L739.5 161.75 L750.05 161.75 L750.05 161.75" fill="none" stroke="#2ca02c" stroke-width="2.2" stroke-linejoin="miter"/>
<path d="M591.8 161.75 L591.8 161.75 L602.35 161.75 L602.35 151.4 L612.9 151.4 L612.9 109.2 L623.45 109.2 L623.45 127.7 L634 127.7 L634 148.4 L644.55 148.4 L644.55 159.6 L655.1 159.6 L655.1 161.75 L665.65 161.75 L665.65 161.75 L676.2 161.75 L676.2 161.75 L686.75 161.75 L686.75 161.75 L697.3 161.75 L697.3 161.75 L707.85 161.75 L707.85 161.75 L718.4 161.75 L718.4 161.75 L728.95 161.75 L728.95 161.75 L739.5 161.75 L739.5 161.75 L750.05 161.75 L750.05 161.75" fill="none" stroke="#ff7f0e" stroke-width="2.2" stroke-linejoin="miter"/>
<path d="M591.8 161.75 L591.8 161.75 L602.35 161.75 L602.35 161.75 L612.9 161.75 L612.9 159.6 L623.45 159.6 L623.45 142.2 L634 142.2 L634 151.7 L644.55 151.7 L644.55 147.3 L655.1 147.3 L655.1 143.3 L665.65 143.3 L665.65 148.1 L676.2 148.1 L676.2 155.9 L686.75 155.9 L686.75 150.7 L697.3 150.7 L697.3 154.1 L707.85 154.1 L707.85 156.1 L718.4 156.1 L718.4 161.75 L728.95 161.75 L728.95 160 L739.5 160 L739.5 160.6 L750.05 160.6 L750.05 161.75" fill="none" stroke="#1f77b4" stroke-width="2.2" stroke-linejoin="miter"/>
<line x1="661" y1="161.75" x2="661" y2="106.05" stroke="#1f77b4" stroke-width="1.66" stroke-dasharray="6.14 2.66"/>
<line x1="622.7" y1="161.75" x2="622.7" y2="106.05" stroke="#ff7f0e" stroke-width="1.66" stroke-dasharray="6.14 2.66"/>
<line x1="624.9" y1="161.75" x2="624.9" y2="106.05" stroke="#2ca02c" stroke-width="1.66" stroke-dasharray="6.14 2.66"/>
</g>
<rect x="584.1" y="106.05" width="173.7" height="55.7" fill="none" stroke="#000" stroke-width="1.1"/>
<line x1="587.1" y1="161.75" x2="587.1" y2="166.05" stroke="#000" stroke-width="1.1"/>
<text x="587.1" y="176.95" font-size="10.0" text-anchor="middle" transform="rotate(0.03 587.1 176.95)">0</text>
<line x1="639.8" y1="161.75" x2="639.8" y2="166.05" stroke="#000" stroke-width="1.1"/>
<text x="639.8" y="176.95" font-size="10.0" text-anchor="middle" transform="rotate(0.03 639.8 176.95)">5</text>
<line x1="692.6" y1="161.75" x2="692.6" y2="166.05" stroke="#000" stroke-width="1.1"/>
<text x="692.6" y="176.95" font-size="10.0" text-anchor="middle" transform="rotate(0.03 692.6 176.95)">10</text>
<line x1="745.2" y1="161.75" x2="745.2" y2="166.05" stroke="#000" stroke-width="1.1"/>
<text x="745.2" y="176.95" font-size="10.0" text-anchor="middle" transform="rotate(0.03 745.2 176.95)">15</text>
<text x="635.54" y="190.05" font-size="12.2" font-style="italic" textLength="5.02" lengthAdjust="spacingAndGlyphs" transform="rotate(0.03 635.54 190.05)" xml:space="preserve">τ</text>
<text x="641.7" y="192.86" font-size="8.91" textLength="28.3" lengthAdjust="spacingAndGlyphs" transform="rotate(0.03 641.7 192.86)" xml:space="preserve">median</text>
<text x="675.5" y="190.05" font-size="12.2" textLength="31.5" lengthAdjust="spacingAndGlyphs" transform="rotate(0.03 675.5 190.05)" xml:space="preserve">(days)</text>
<g clip-path="url(#c20)">
<rect x="44.4" y="211.55" width="53.9" height="55.8" fill="#1f77b4" fill-opacity="0.1"/>
<rect x="136.1" y="211.55" width="27.5" height="55.8" fill="#ff7f0e" fill-opacity="0.1"/>
<rect x="133.9" y="211.55" width="28.4" height="55.8" fill="#2ca02c" fill-opacity="0.1"/>
<path d="M8.1 267.35 L8.1 267.35 L18.65 267.35 L18.65 267.35 L29.2 267.35 L29.2 267.35 L39.75 267.35 L39.75 267.35 L50.3 267.35 L50.3 267.35 L60.85 267.35 L60.85 267.35 L71.4 267.35 L71.4 267.35 L81.95 267.35 L81.95 267.35 L92.5 267.35 L92.5 265.6 L103.05 265.6 L103.05 265.6 L113.6 265.6 L113.6 261.1 L124.15 261.1 L124.15 256.2 L134.7 256.2 L134.7 241.1 L145.25 241.1 L145.25 232.5 L155.8 232.5 L155.8 225.6 L166.35 225.6 L166.35 267.35" fill="none" stroke="#2ca02c" stroke-width="2.2" stroke-linejoin="miter"/>
<path d="M8.1 267.35 L8.1 267.35 L18.65 267.35 L18.65 267.35 L29.2 267.35 L29.2 267.35 L39.75 267.35 L39.75 267.35 L50.3 267.35 L50.3 267.35 L60.85 267.35 L60.85 267.35 L71.4 267.35 L71.4 267.35 L81.95 267.35 L81.95 266 L92.5 266 L92.5 266 L103.05 266 L103.05 266 L113.6 266 L113.6 264.5 L124.15 264.5 L124.15 257.7 L134.7 257.7 L134.7 243.3 L145.25 243.3 L145.25 235 L155.8 235 L155.8 214.3 L166.35 214.3 L166.35 267.35" fill="none" stroke="#ff7f0e" stroke-width="2.2" stroke-linejoin="miter"/>
<path d="M8.1 267.35 L8.1 266 L18.65 266 L18.65 258.9 L29.2 258.9 L29.2 260.4 L39.75 260.4 L39.75 254.9 L50.3 254.9 L50.3 250.7 L60.85 250.7 L60.85 253 L71.4 253 L71.4 247.3 L81.95 247.3 L81.95 250.9 L92.5 250.9 L92.5 257.1 L103.05 257.1 L103.05 264.1 L113.6 264.1 L113.6 262.1 L124.15 262.1 L124.15 263.3 L134.7 263.3 L134.7 264.5 L145.25 264.5 L145.25 266.3 L155.8 266.3 L155.8 266.3 L166.35 266.3 L166.35 267.35" fill="none" stroke="#1f77b4" stroke-width="2.2" stroke-linejoin="miter"/>
<line x1="72.1" y1="267.35" x2="72.1" y2="211.55" stroke="#1f77b4" stroke-width="1.66" stroke-dasharray="6.14 2.66"/>
<line x1="154.4" y1="267.35" x2="154.4" y2="211.55" stroke="#ff7f0e" stroke-width="1.66" stroke-dasharray="6.14 2.66"/>
<line x1="150" y1="267.35" x2="150" y2="211.55" stroke="#2ca02c" stroke-width="1.66" stroke-dasharray="6.14 2.66"/>
</g>
<rect x="0.45" y="211.55" width="173.95" height="55.8" fill="none" stroke="#000" stroke-width="1.1"/>
<line x1="52.8" y1="267.35" x2="52.8" y2="271.65" stroke="#000" stroke-width="1.1"/>
<text x="52.8" y="282.55" font-size="10.0" text-anchor="middle" transform="rotate(0.03 52.8 282.55)">1.0</text>
<line x1="109.6" y1="267.35" x2="109.6" y2="271.65" stroke="#000" stroke-width="1.1"/>
<text x="109.6" y="282.55" font-size="10.0" text-anchor="middle" transform="rotate(0.03 109.6 282.55)">1.5</text>
<line x1="166.5" y1="267.35" x2="166.5" y2="271.65" stroke="#000" stroke-width="1.1"/>
<text x="166.5" y="282.55" font-size="10.0" text-anchor="middle" transform="rotate(0.03 166.5 282.55)">2.0</text>
<text x="84.31" y="295.65" font-size="12.2" font-style="italic" textLength="6.56" lengthAdjust="spacingAndGlyphs" transform="rotate(0.03 84.31 295.65)" xml:space="preserve">β</text>
<g clip-path="url(#c21)">
<rect x="210" y="211.55" width="51.9" height="55.8" fill="#1f77b4" fill-opacity="0.1"/>
<rect x="234.5" y="211.55" width="88.9" height="55.8" fill="#ff7f0e" fill-opacity="0.1"/>
<rect x="215.9" y="211.55" width="112.2" height="55.8" fill="#2ca02c" fill-opacity="0.1"/>
<path d="M202.8 267.35 L202.8 233.7 L213.35 233.7 L213.35 238.4 L223.9 238.4 L223.9 241.9 L234.45 241.9 L234.45 242.5 L245 242.5 L245 250 L255.55 250 L255.55 256.7 L266.1 256.7 L266.1 252.2 L276.65 252.2 L276.65 258.1 L287.2 258.1 L287.2 256.7 L297.75 256.7 L297.75 251.8 L308.3 251.8 L308.3 257.7 L318.85 257.7 L318.85 248.2 L329.4 248.2 L329.4 257.7 L339.95 257.7 L339.95 254 L350.5 254 L350.5 253 L361.05 253 L361.05 267.35" fill="none" stroke="#2ca02c" stroke-width="2.2" stroke-linejoin="miter"/>
<path d="M202.8 267.35 L202.8 257.7 L213.35 257.7 L213.35 248.8 L223.9 248.8 L223.9 246 L234.45 246 L234.45 242.9 L245 242.9 L245 247.8 L255.55 247.8 L255.55 249.3 L266.1 249.3 L266.1 244.4 L276.65 244.4 L276.65 241.1 L287.2 241.1 L287.2 246 L297.75 246 L297.75 254.4 L308.3 254.4 L308.3 250 L318.85 250 L318.85 257.7 L329.4 257.7 L329.4 257.7 L339.95 257.7 L339.95 253.3 L350.5 253.3 L350.5 257.1 L361.05 257.1 L361.05 267.35" fill="none" stroke="#ff7f0e" stroke-width="2.2" stroke-linejoin="miter"/>
<path d="M202.8 267.35 L202.8 214.1 L213.35 214.1 L213.35 233.7 L223.9 233.7 L223.9 221.1 L234.45 221.1 L234.45 227.8 L245 227.8 L245 233.7 L255.55 233.7 L255.55 244.8 L266.1 244.8 L266.1 261.6 L276.65 261.6 L276.65 258.9 L287.2 258.9 L287.2 260.4 L297.75 260.4 L297.75 258.9 L308.3 258.9 L308.3 267.35 L318.85 267.35 L318.85 267.35 L329.4 267.35 L329.4 267.35 L339.95 267.35 L339.95 267.35 L350.5 267.35 L350.5 267.35 L361.05 267.35 L361.05 267.35" fill="none" stroke="#1f77b4" stroke-width="2.2" stroke-linejoin="miter"/>
<line x1="234.1" y1="267.35" x2="234.1" y2="211.55" stroke="#1f77b4" stroke-width="1.66" stroke-dasharray="6.14 2.66"/>
<line x1="273.3" y1="267.35" x2="273.3" y2="211.55" stroke="#ff7f0e" stroke-width="1.66" stroke-dasharray="6.14 2.66"/>
<line x1="255.9" y1="267.35" x2="255.9" y2="211.55" stroke="#2ca02c" stroke-width="1.66" stroke-dasharray="6.14 2.66"/>
</g>
<rect x="195.3" y="211.55" width="173.4" height="55.8" fill="none" stroke="#000" stroke-width="1.1"/>
<line x1="203" y1="267.35" x2="203" y2="271.65" stroke="#000" stroke-width="1.1"/>
<text x="203" y="282.55" font-size="10.0" text-anchor="middle" transform="rotate(0.03 203 282.55)">0.00</text>
<line x1="242.4" y1="267.35" x2="242.4" y2="271.65" stroke="#000" stroke-width="1.1"/>
<text x="242.4" y="282.55" font-size="10.0" text-anchor="middle" transform="rotate(0.03 242.4 282.55)">0.25</text>
<line x1="281.9" y1="267.35" x2="281.9" y2="271.65" stroke="#000" stroke-width="1.1"/>
<text x="281.9" y="282.55" font-size="10.0" text-anchor="middle" transform="rotate(0.03 281.9 282.55)">0.50</text>
<line x1="321.3" y1="267.35" x2="321.3" y2="271.65" stroke="#000" stroke-width="1.1"/>
<text x="321.3" y="282.55" font-size="10.0" text-anchor="middle" transform="rotate(0.03 321.3 282.55)">0.75</text>
<line x1="360.8" y1="267.35" x2="360.8" y2="271.65" stroke="#000" stroke-width="1.1"/>
<text x="360.8" y="282.55" font-size="10.0" text-anchor="middle" transform="rotate(0.03 360.8 282.55)">1.00</text>
<text x="279.52" y="295.65" font-size="12.2" font-style="italic" textLength="5.64" lengthAdjust="spacingAndGlyphs" transform="rotate(0.03 279.52 295.65)" xml:space="preserve">ξ</text>
<g clip-path="url(#c22)">
<rect x="464.3" y="211.55" width="27.9" height="55.8" fill="#1f77b4" fill-opacity="0.1"/>
<rect x="399" y="211.55" width="30.1" height="55.8" fill="#ff7f0e" fill-opacity="0.1"/>
<rect x="401" y="211.55" width="121.9" height="55.8" fill="#2ca02c" fill-opacity="0.1"/>
<path d="M397.4 267.35 L397.4 233 L407.95 233 L407.95 250.7 L418.5 250.7 L418.5 257.7 L429.05 257.7 L429.05 261.9 L439.6 261.9 L439.6 262.2 L450.15 262.2 L450.15 262.1 L460.7 262.1 L460.7 263 L471.25 263 L471.25 260.1 L481.8 260.1 L481.8 262.6 L492.35 262.6 L492.35 260.4 L502.9 260.4 L502.9 259.8 L513.45 259.8 L513.45 261.1 L524 261.1 L524 261.1 L534.55 261.1 L534.55 260.4 L545.1 260.4 L545.1 260.4 L555.65 260.4 L555.65 267.35" fill="none" stroke="#2ca02c" stroke-width="2.2" stroke-linejoin="miter"/>
<path d="M397.4 267.35 L397.4 214.4 L407.95 214.4 L407.95 228.5 L418.5 228.5 L418.5 246.7 L429.05 246.7 L429.05 259.6 L439.6 259.6 L439.6 261.9 L450.15 261.9 L450.15 264.5 L460.7 264.5 L460.7 266 L471.25 266 L471.25 266 L481.8 266 L481.8 266 L492.35 266 L492.35 266 L502.9 266 L502.9 266 L513.45 266 L513.45 267.35 L524 267.35 L524 267.35 L534.55 267.35 L534.55 267.35 L545.1 267.35 L545.1 267.35 L555.65 267.35 L555.65 267.35" fill="none" stroke="#ff7f0e" stroke-width="2.2" stroke-linejoin="miter"/>
<path d="M397.4 267.35 L397.4 263 L407.95 263 L407.95 263 L418.5 263 L418.5 267.35 L429.05 267.35 L429.05 267.35 L439.6 267.35 L439.6 267.35 L450.15 267.35 L450.15 257.7 L460.7 257.7 L460.7 247 L471.25 247 L471.25 216.2 L481.8 216.2 L481.8 244.8 L492.35 244.8 L492.35 258.9 L502.9 258.9 L502.9 259.6 L513.45 259.6 L513.45 265.6 L524 265.6 L524 265.6 L534.55 265.6 L534.55 267.35 L545.1 267.35 L545.1 267.35 L555.65 267.35 L555.65 267.35" fill="none" stroke="#1f77b4" stroke-width="2.2" stroke-linejoin="miter"/>
<line x1="476.6" y1="267.35" x2="476.6" y2="211.55" stroke="#1f77b4" stroke-width="1.66" stroke-dasharray="6.14 2.66"/>
<line x1="410.2" y1="267.35" x2="410.2" y2="211.55" stroke="#ff7f0e" stroke-width="1.66" stroke-dasharray="6.14 2.66"/>
<line x1="440.1" y1="267.35" x2="440.1" y2="211.55" stroke="#2ca02c" stroke-width="1.66" stroke-dasharray="6.14 2.66"/>
</g>
<rect x="389.7" y="211.55" width="173.7" height="55.8" fill="none" stroke="#000" stroke-width="1.1"/>
<line x1="397.3" y1="267.35" x2="397.3" y2="271.65" stroke="#000" stroke-width="1.1"/>
<text x="397.3" y="282.55" font-size="10.0" text-anchor="middle" textLength="25" lengthAdjust="spacingAndGlyphs" transform="rotate(0.03 397.3 282.55)">−0.50</text>
<line x1="436.9" y1="267.35" x2="436.9" y2="271.65" stroke="#000" stroke-width="1.1"/>
<text x="436.9" y="282.55" font-size="10.0" text-anchor="middle" textLength="25" lengthAdjust="spacingAndGlyphs" transform="rotate(0.03 436.9 282.55)">−0.25</text>
<line x1="476.5" y1="267.35" x2="476.5" y2="271.65" stroke="#000" stroke-width="1.1"/>
<text x="476.5" y="282.55" font-size="10.0" text-anchor="middle" transform="rotate(0.03 476.5 282.55)">0.00</text>
<line x1="516" y1="267.35" x2="516" y2="271.65" stroke="#000" stroke-width="1.1"/>
<text x="516" y="282.55" font-size="10.0" text-anchor="middle" transform="rotate(0.03 516 282.55)">0.25</text>
<line x1="555.5" y1="267.35" x2="555.5" y2="271.65" stroke="#000" stroke-width="1.1"/>
<text x="555.5" y="282.55" font-size="10.0" text-anchor="middle" transform="rotate(0.03 555.5 282.55)">0.50</text>
<text x="473.5" y="295.65" font-size="12.2" font-style="italic" textLength="6.18" lengthAdjust="spacingAndGlyphs" transform="rotate(0.03 473.5 295.65)" xml:space="preserve">κ</text>
<g clip-path="url(#c23)">
<rect x="629.2" y="211.55" width="101.6" height="55.8" fill="#1f77b4" fill-opacity="0.1"/>
<rect x="663" y="211.55" width="78.5" height="55.8" fill="#ff7f0e" fill-opacity="0.1"/>
<rect x="633.3" y="211.55" width="103" height="55.8" fill="#2ca02c" fill-opacity="0.1"/>
<path d="M591.8 267.35 L591.8 255.6 L602.35 255.6 L602.35 261.1 L612.9 261.1 L612.9 253.3 L623.45 253.3 L623.45 253.7 L634 253.7 L634 254.4 L644.55 254.4 L644.55 250.3 L655.1 250.3 L655.1 245.9 L665.65 245.9 L665.65 249.5 L676.2 249.5 L676.2 247.8 L686.75 247.8 L686.75 246.3 L697.3 246.3 L697.3 241.4 L707.85 241.4 L707.85 241.4 L718.4 241.4 L718.4 228.9 L728.95 228.9 L728.95 244.4 L739.5 244.4 L739.5 228.5 L750.05 228.5 L750.05 267.35" fill="none" stroke="#2ca02c" stroke-width="2.2" stroke-linejoin="miter"/>
<path d="M591.8 267.35 L591.8 266.3 L602.35 266.3 L602.35 265.6 L612.9 265.6 L612.9 265.6 L623.45 265.6 L623.45 255.6 L634 255.6 L634 257.4 L644.55 257.4 L644.55 254.4 L655.1 254.4 L655.1 254.4 L665.65 254.4 L665.65 257.1 L676.2 257.1 L676.2 251.8 L686.75 251.8 L686.75 248.8 L697.3 248.8 L697.3 238.1 L707.85 238.1 L707.85 232.2 L718.4 232.2 L718.4 229.3 L728.95 229.3 L728.95 220.1 L739.5 220.1 L739.5 214.4 L750.05 214.4 L750.05 267.35" fill="none" stroke="#ff7f0e" stroke-width="2.2" stroke-linejoin="miter"/>
<path d="M591.8 267.35 L591.8 252.7 L602.35 252.7 L602.35 261.1 L612.9 261.1 L612.9 257.1 L623.45 257.1 L623.45 244.8 L634 244.8 L634 253.7 L644.55 253.7 L644.55 256.7 L655.1 256.7 L655.1 234.9 L665.65 234.9 L665.65 249.3 L676.2 249.3 L676.2 249.3 L686.75 249.3 L686.75 240.4 L697.3 240.4 L697.3 248.2 L707.85 248.2 L707.85 257.1 L718.4 257.1 L718.4 228.5 L728.95 228.5 L728.95 250.7 L739.5 250.7 L739.5 233 L750.05 233 L750.05 267.35" fill="none" stroke="#1f77b4" stroke-width="2.2" stroke-linejoin="miter"/>
<line x1="685.9" y1="267.35" x2="685.9" y2="211.55" stroke="#1f77b4" stroke-width="1.66" stroke-dasharray="6.14 2.66"/>
<line x1="715.1" y1="267.35" x2="715.1" y2="211.55" stroke="#ff7f0e" stroke-width="1.66" stroke-dasharray="6.14 2.66"/>
<line x1="692.3" y1="267.35" x2="692.3" y2="211.55" stroke="#2ca02c" stroke-width="1.66" stroke-dasharray="6.14 2.66"/>
</g>
<rect x="584.1" y="211.55" width="173.7" height="55.8" fill="none" stroke="#000" stroke-width="1.1"/>
<line x1="591.8" y1="267.35" x2="591.8" y2="271.65" stroke="#000" stroke-width="1.1"/>
<text x="591.8" y="282.55" font-size="10.0" text-anchor="middle" transform="rotate(0.03 591.8 282.55)">1</text>
<line x1="631.4" y1="267.35" x2="631.4" y2="271.65" stroke="#000" stroke-width="1.1"/>
<text x="631.4" y="282.55" font-size="10.0" text-anchor="middle" transform="rotate(0.03 631.4 282.55)">2</text>
<line x1="671" y1="267.35" x2="671" y2="271.65" stroke="#000" stroke-width="1.1"/>
<text x="671" y="282.55" font-size="10.0" text-anchor="middle" transform="rotate(0.03 671 282.55)">3</text>
<line x1="710.6" y1="267.35" x2="710.6" y2="271.65" stroke="#000" stroke-width="1.1"/>
<text x="710.6" y="282.55" font-size="10.0" text-anchor="middle" transform="rotate(0.03 710.6 282.55)">4</text>
<line x1="750.2" y1="267.35" x2="750.2" y2="271.65" stroke="#000" stroke-width="1.1"/>
<text x="750.2" y="282.55" font-size="10.0" text-anchor="middle" transform="rotate(0.03 750.2 282.55)">5</text>
<text x="668.49" y="295.65" font-size="12.2" font-style="italic" textLength="5.19" lengthAdjust="spacingAndGlyphs" transform="rotate(0.03 668.49 295.65)" xml:space="preserve">γ</text>
<g clip-path="url(#c30)">
<rect x="30" y="317.35" width="72.8" height="55.8" fill="#1f77b4" fill-opacity="0.1"/>
<rect x="23.5" y="317.35" width="65.9" height="55.8" fill="#ff7f0e" fill-opacity="0.1"/>
<rect x="21.9" y="317.35" width="60" height="55.8" fill="#2ca02c" fill-opacity="0.1"/>
<path d="M8.1 373.15 L8.1 335.2 L18.65 335.2 L18.65 320.7 L29.2 320.7 L29.2 334.7 L39.75 334.7 L39.75 319.9 L50.3 319.9 L50.3 326.1 L60.85 326.1 L60.85 338.4 L71.4 338.4 L71.4 345.1 L81.95 345.1 L81.95 350.7 L92.5 350.7 L92.5 359.6 L103.05 359.6 L103.05 362.6 L113.6 362.6 L113.6 368.8 L124.15 368.8 L124.15 371 L134.7 371 L134.7 373.15 L145.25 373.15 L145.25 373.15 L155.8 373.15 L155.8 373.15 L166.35 373.15 L166.35 373.15" fill="none" stroke="#2ca02c" stroke-width="2.2" stroke-linejoin="miter"/>
<path d="M8.1 373.15 L8.1 340.7 L18.65 340.7 L18.65 333.6 L29.2 333.6 L29.2 333.6 L39.75 333.6 L39.75 328.8 L50.3 328.8 L50.3 328.8 L60.85 328.8 L60.85 332.5 L71.4 332.5 L71.4 337.7 L81.95 337.7 L81.95 350.7 L92.5 350.7 L92.5 361.7 L103.05 361.7 L103.05 362.6 L113.6 362.6 L113.6 361.1 L124.15 361.1 L124.15 365.9 L134.7 365.9 L134.7 368.1 L145.25 368.1 L145.25 373.15 L155.8 373.15 L155.8 372 L166.35 372 L166.35 373.15" fill="none" stroke="#ff7f0e" stroke-width="2.2" stroke-linejoin="miter"/>
<path d="M8.1 373.15 L8.1 348.1 L18.65 348.1 L18.65 345.1 L29.2 345.1 L29.2 343.3 L39.75 343.3 L39.75 340.4 L50.3 340.4 L50.3 330.3 L60.85 330.3 L60.85 336.2 L71.4 336.2 L71.4 342.9 L81.95 342.9 L81.95 328.8 L92.5 328.8 L92.5 349.6 L103.05 349.6 L103.05 350.7 L113.6 350.7 L113.6 366.6 L124.15 366.6 L124.15 360.7 L134.7 360.7 L134.7 370 L145.25 370 L145.25 371 L155.8 371 L155.8 368.5 L166.35 368.5 L166.35 373.15" fill="none" stroke="#1f77b4" stroke-width="2.2" stroke-linejoin="miter"/>
<line x1="66.2" y1="373.15" x2="66.2" y2="317.35" stroke="#1f77b4" stroke-width="1.66" stroke-dasharray="6.14 2.66"/>
<line x1="54.1" y1="373.15" x2="54.1" y2="317.35" stroke="#ff7f0e" stroke-width="1.66" stroke-dasharray="6.14 2.66"/>
<line x1="48.9" y1="373.15" x2="48.9" y2="317.35" stroke="#2ca02c" stroke-width="1.66" stroke-dasharray="6.14 2.66"/>
</g>
<rect x="0.45" y="317.35" width="173.95" height="55.8" fill="none" stroke="#000" stroke-width="1.1"/>
<line x1="8.2" y1="373.15" x2="8.2" y2="377.45" stroke="#000" stroke-width="1.1"/>
<text x="8.2" y="388.35" font-size="10.0" text-anchor="middle" transform="rotate(0.03 8.2 388.35)">0.0</text>
<line x1="48.8" y1="373.15" x2="48.8" y2="377.45" stroke="#000" stroke-width="1.1"/>
<text x="48.8" y="388.35" font-size="10.0" text-anchor="middle" transform="rotate(0.03 48.8 388.35)">0.2</text>
<line x1="89.4" y1="373.15" x2="89.4" y2="377.45" stroke="#000" stroke-width="1.1"/>
<text x="89.4" y="388.35" font-size="10.0" text-anchor="middle" transform="rotate(0.03 89.4 388.35)">0.4</text>
<line x1="130" y1="373.15" x2="130" y2="377.45" stroke="#000" stroke-width="1.1"/>
<text x="130" y="388.35" font-size="10.0" text-anchor="middle" transform="rotate(0.03 130 388.35)">0.6</text>
<line x1="170.5" y1="373.15" x2="170.5" y2="377.45" stroke="#000" stroke-width="1.1"/>
<text x="170.5" y="388.35" font-size="10.0" text-anchor="middle" transform="rotate(0.03 170.5 388.35)">0.8</text>
<text x="77.4" y="401.45" font-size="12.2" font-style="italic" textLength="3.9" lengthAdjust="spacingAndGlyphs" transform="rotate(0.03 77.4 401.45)" xml:space="preserve">f</text>
<text x="82.6" y="404.26" font-size="8.91" textLength="16.5" lengthAdjust="spacingAndGlyphs" transform="rotate(0.03 82.6 404.26)" xml:space="preserve">ellip</text>
<g clip-path="url(#c31)">
<rect x="288.9" y="317.35" width="61.9" height="55.8" fill="#1f77b4" fill-opacity="0.1"/>
<rect x="223.3" y="317.35" width="107.1" height="55.8" fill="#ff7f0e" fill-opacity="0.1"/>
<rect x="234.4" y="317.35" width="109.3" height="55.8" fill="#2ca02c" fill-opacity="0.1"/>
<path d="M202.8 373.15 L202.8 357.7 L213.35 357.7 L213.35 357 L223.9 357 L223.9 352.8 L234.45 352.8 L234.45 356.2 L245 356.2 L245 358.4 L255.55 358.4 L255.55 357.4 L266.1 357.4 L266.1 357.4 L276.65 357.4 L276.65 350.5 L287.2 350.5 L287.2 345.1 L297.75 345.1 L297.75 343.6 L308.3 343.6 L308.3 343.6 L318.85 343.6 L318.85 349.3 L329.4 349.3 L329.4 349.3 L339.95 349.3 L339.95 342.9 L350.5 342.9 L350.5 341.9 L361.05 341.9 L361.05 373.15" fill="none" stroke="#2ca02c" stroke-width="2.2" stroke-linejoin="miter"/>
<path d="M202.8 373.15 L202.8 351.8 L213.35 351.8 L213.35 338.4 L223.9 338.4 L223.9 349.6 L234.45 349.6 L234.45 355.8 L245 355.8 L245 342.1 L255.55 342.1 L255.55 338.4 L266.1 338.4 L266.1 344.4 L276.65 344.4 L276.65 358.1 L287.2 358.1 L287.2 350.3 L297.75 350.3 L297.75 361.7 L308.3 361.7 L308.3 361.1 L318.85 361.1 L318.85 349.3 L329.4 349.3 L329.4 342.1 L339.95 342.1 L339.95 360.7 L350.5 360.7 L350.5 358.4 L361.05 358.4 L361.05 373.15" fill="none" stroke="#ff7f0e" stroke-width="2.2" stroke-linejoin="miter"/>
<path d="M202.8 373.15 L202.8 371.5 L213.35 371.5 L213.35 370.3 L223.9 370.3 L223.9 371 L234.45 371 L234.45 370.3 L245 370.3 L245 371 L255.55 371 L255.55 368.5 L266.1 368.5 L266.1 368.5 L276.65 368.5 L276.65 350 L287.2 350 L287.2 338.4 L297.75 338.4 L297.75 327.6 L308.3 327.6 L308.3 330.3 L318.85 330.3 L318.85 339.9 L329.4 339.9 L329.4 323.2 L339.95 323.2 L339.95 342.9 L350.5 342.9 L350.5 319.9 L361.05 319.9 L361.05 373.15" fill="none" stroke="#1f77b4" stroke-width="2.2" stroke-linejoin="miter"/>
<line x1="319.7" y1="373.15" x2="319.7" y2="317.35" stroke="#1f77b4" stroke-width="1.66" stroke-dasharray="6.14 2.66"/>
<line x1="267" y1="373.15" x2="267" y2="317.35" stroke="#ff7f0e" stroke-width="1.66" stroke-dasharray="6.14 2.66"/>
<line x1="297.8" y1="373.15" x2="297.8" y2="317.35" stroke="#2ca02c" stroke-width="1.66" stroke-dasharray="6.14 2.66"/>
</g>
<rect x="195.3" y="317.35" width="173.4" height="55.8" fill="none" stroke="#000" stroke-width="1.1"/>
<line x1="202.8" y1="373.15" x2="202.8" y2="377.45" stroke="#000" stroke-width="1.1"/>
<text x="202.8" y="388.35" font-size="10.0" text-anchor="middle" transform="rotate(0.03 202.8 388.35)">0.00</text>
<line x1="242.3" y1="373.15" x2="242.3" y2="377.45" stroke="#000" stroke-width="1.1"/>
<text x="242.3" y="388.35" font-size="10.0" text-anchor="middle" transform="rotate(0.03 242.3 388.35)">0.25</text>
<line x1="281.8" y1="373.15" x2="281.8" y2="377.45" stroke="#000" stroke-width="1.1"/>
<text x="281.8" y="388.35" font-size="10.0" text-anchor="middle" transform="rotate(0.03 281.8 388.35)">0.50</text>
<line x1="321.3" y1="373.15" x2="321.3" y2="377.45" stroke="#000" stroke-width="1.1"/>
<text x="321.3" y="388.35" font-size="10.0" text-anchor="middle" transform="rotate(0.03 321.3 388.35)">0.75</text>
<line x1="360.8" y1="373.15" x2="360.8" y2="377.45" stroke="#000" stroke-width="1.1"/>
<text x="360.8" y="388.35" font-size="10.0" text-anchor="middle" transform="rotate(0.03 360.8 388.35)">1.00</text>
<text x="272.4" y="401.45" font-size="12.2" font-style="italic" textLength="3.9" lengthAdjust="spacingAndGlyphs" transform="rotate(0.03 272.4 401.45)" xml:space="preserve">f</text>
<text x="277.6" y="404.26" font-size="8.91" textLength="15.4" lengthAdjust="spacingAndGlyphs" transform="rotate(0.03 277.6 404.26)" xml:space="preserve">flow</text>
<g clip-path="url(#c32)">
<rect x="451" y="317.35" width="63" height="55.8" fill="#1f77b4" fill-opacity="0.1"/>
<rect x="413.9" y="317.35" width="64.3" height="55.8" fill="#ff7f0e" fill-opacity="0.1"/>
<rect x="417.9" y="317.35" width="78" height="55.8" fill="#2ca02c" fill-opacity="0.1"/>
<path d="M397.4 373.15 L397.4 345.9 L407.95 345.9 L407.95 349.3 L418.5 349.3 L418.5 342.9 L429.05 342.9 L429.05 345.9 L439.6 345.9 L439.6 340.7 L450.15 340.7 L450.15 339.9 L460.7 339.9 L460.7 350.3 L471.25 350.3 L471.25 345.1 L481.8 345.1 L481.8 342.9 L492.35 342.9 L492.35 342.9 L502.9 342.9 L502.9 357.3 L513.45 357.3 L513.45 364.4 L524 364.4 L524 366.6 L534.55 366.6 L534.55 371.8 L545.1 371.8 L545.1 373.15 L555.65 373.15 L555.65 373.15" fill="none" stroke="#2ca02c" stroke-width="2.2" stroke-linejoin="miter"/>
<path d="M397.4 373.15 L397.4 338.9 L407.95 338.9 L407.95 342.1 L418.5 342.1 L418.5 338.9 L429.05 338.9 L429.05 341.4 L439.6 341.4 L439.6 345.1 L450.15 345.1 L450.15 320.2 L460.7 320.2 L460.7 341.4 L471.25 341.4 L471.25 345.9 L481.8 345.9 L481.8 355.8 L492.35 355.8 L492.35 363.6 L502.9 363.6 L502.9 361.4 L513.45 361.4 L513.45 371.5 L524 371.5 L524 371.5 L534.55 371.5 L534.55 373.15 L545.1 373.15 L545.1 373.15 L555.65 373.15 L555.65 373.15" fill="none" stroke="#ff7f0e" stroke-width="2.2" stroke-linejoin="miter"/>
<path d="M397.4 373.15 L397.4 357.3 L407.95 357.3 L407.95 370.3 L418.5 370.3 L418.5 362.9 L429.05 362.9 L429.05 358.1 L439.6 358.1 L439.6 360.7 L450.15 360.7 L450.15 341.9 L460.7 341.9 L460.7 324.7 L471.25 324.7 L471.25 336.2 L481.8 336.2 L481.8 340.7 L492.35 340.7 L492.35 351 L502.9 351 L502.9 338.9 L513.45 338.9 L513.45 348.8 L524 348.8 L524 361.7 L534.55 361.7 L534.55 362.9 L545.1 362.9 L545.1 368.8 L555.65 368.8 L555.65 373.15" fill="none" stroke="#1f77b4" stroke-width="2.2" stroke-linejoin="miter"/>
<line x1="475.5" y1="373.15" x2="475.5" y2="317.35" stroke="#1f77b4" stroke-width="1.66" stroke-dasharray="6.14 2.66"/>
<line x1="448.6" y1="373.15" x2="448.6" y2="317.35" stroke="#ff7f0e" stroke-width="1.66" stroke-dasharray="6.14 2.66"/>
<line x1="455.7" y1="373.15" x2="455.7" y2="317.35" stroke="#2ca02c" stroke-width="1.66" stroke-dasharray="6.14 2.66"/>
</g>
<rect x="389.7" y="317.35" width="173.7" height="55.8" fill="none" stroke="#000" stroke-width="1.1"/>
<line x1="397.2" y1="373.15" x2="397.2" y2="377.45" stroke="#000" stroke-width="1.1"/>
<text x="397.2" y="388.35" font-size="10.0" text-anchor="middle" transform="rotate(0.03 397.2 388.35)">0</text>
<line x1="436.9" y1="373.15" x2="436.9" y2="377.45" stroke="#000" stroke-width="1.1"/>
<text x="436.9" y="388.35" font-size="10.0" text-anchor="middle" transform="rotate(0.03 436.9 388.35)">20</text>
<line x1="476.5" y1="373.15" x2="476.5" y2="377.45" stroke="#000" stroke-width="1.1"/>
<text x="476.5" y="388.35" font-size="10.0" text-anchor="middle" transform="rotate(0.03 476.5 388.35)">40</text>
<line x1="516.1" y1="373.15" x2="516.1" y2="377.45" stroke="#000" stroke-width="1.1"/>
<text x="516.1" y="388.35" font-size="10.0" text-anchor="middle" transform="rotate(0.03 516.1 388.35)">60</text>
<line x1="555.7" y1="373.15" x2="555.7" y2="377.45" stroke="#000" stroke-width="1.1"/>
<text x="555.7" y="388.35" font-size="10.0" text-anchor="middle" transform="rotate(0.03 555.7 388.35)">80</text>
<text x="445.5" y="401.45" font-size="12.2" font-style="italic" textLength="6" lengthAdjust="spacingAndGlyphs" transform="rotate(0.03 445.5 401.45)" xml:space="preserve">θ</text>
<text x="452.5" y="404.26" font-size="8.91" font-style="italic" textLength="3.7" lengthAdjust="spacingAndGlyphs" transform="rotate(0.03 452.5 404.26)" xml:space="preserve">e</text>
<text x="460.5" y="401.45" font-size="12.2" textLength="46.5" lengthAdjust="spacingAndGlyphs" transform="rotate(0.03 460.5 401.45)" xml:space="preserve">(degrees)</text>
<g clip-path="url(#c33)">
<rect x="592.6" y="317.35" width="9.6" height="55.8" fill="#1f77b4" fill-opacity="0.1"/>
<rect x="599.5" y="317.35" width="13" height="55.8" fill="#ff7f0e" fill-opacity="0.1"/>
<rect x="603" y="317.35" width="13.9" height="55.8" fill="#2ca02c" fill-opacity="0.1"/>
<path d="M591.8 373.15 L591.8 348.8 L602.35 348.8 L602.35 341.9 L612.9 341.9 L612.9 360.7 L623.45 360.7 L623.45 371.5 L634 371.5 L634 371.8 L644.55 371.8 L644.55 373.15 L655.1 373.15 L655.1 373.15 L665.65 373.15 L665.65 373.15 L676.2 373.15 L676.2 373.15 L686.75 373.15 L686.75 373.15 L697.3 373.15 L697.3 373.15 L707.85 373.15 L707.85 373.15 L718.4 373.15 L718.4 373.15 L728.95 373.15 L728.95 373.15 L739.5 373.15 L739.5 372.5 L750.05 372.5 L750.05 373.15" fill="none" stroke="#2ca02c" stroke-width="2.2" stroke-linejoin="miter"/>
<path d="M591.8 373.15 L591.8 345.9 L602.35 345.9 L602.35 330.6 L612.9 330.6 L612.9 370 L623.45 370 L623.45 371.8 L634 371.8 L634 371.8 L644.55 371.8 L644.55 373.15 L655.1 373.15 L655.1 373.15 L665.65 373.15 L665.65 373.15 L676.2 373.15 L676.2 373.15 L686.75 373.15 L686.75 373.15 L697.3 373.15 L697.3 373.15 L707.85 373.15 L707.85 373.15 L718.4 373.15 L718.4 373.15 L728.95 373.15 L728.95 373.15 L739.5 373.15 L739.5 373.15 L750.05 373.15 L750.05 373.15" fill="none" stroke="#ff7f0e" stroke-width="2.2" stroke-linejoin="miter"/>
<path d="M591.8 373.15 L591.8 320.1 L602.35 320.1 L602.35 361.7 L612.9 361.7 L612.9 369.6 L623.45 369.6 L623.45 370.3 L634 370.3 L634 370.3 L644.55 370.3 L644.55 373.15 L655.1 373.15 L655.1 373.15 L665.65 373.15 L665.65 373.15 L676.2 373.15 L676.2 373.15 L686.75 373.15 L686.75 373.15 L697.3 373.15 L697.3 373.15 L707.85 373.15 L707.85 373.15 L718.4 373.15 L718.4 373.15 L728.95 373.15 L728.95 373.15 L739.5 373.15 L739.5 373.15 L750.05 373.15 L750.05 373.15" fill="none" stroke="#1f77b4" stroke-width="2.2" stroke-linejoin="miter"/>
<line x1="598" y1="373.15" x2="598" y2="317.35" stroke="#1f77b4" stroke-width="1.66" stroke-dasharray="6.14 2.66"/>
<line x1="604" y1="373.15" x2="604" y2="317.35" stroke="#ff7f0e" stroke-width="1.66" stroke-dasharray="6.14 2.66"/>
<line x1="606" y1="373.15" x2="606" y2="317.35" stroke="#2ca02c" stroke-width="1.66" stroke-dasharray="6.14 2.66"/>
</g>
<rect x="584.1" y="317.35" width="173.7" height="55.8" fill="none" stroke="#000" stroke-width="1.1"/>
<line x1="590.5" y1="373.15" x2="590.5" y2="377.45" stroke="#000" stroke-width="1.1"/>
<text x="590.5" y="388.35" font-size="10.0" text-anchor="middle" transform="rotate(0.03 590.5 388.35)">0</text>
<line x1="659.3" y1="373.15" x2="659.3" y2="377.45" stroke="#000" stroke-width="1.1"/>
<text x="659.3" y="388.35" font-size="10.0" text-anchor="middle" transform="rotate(0.03 659.3 388.35)">100</text>
<line x1="728.2" y1="373.15" x2="728.2" y2="377.45" stroke="#000" stroke-width="1.1"/>
<text x="728.2" y="388.35" font-size="10.0" text-anchor="middle" transform="rotate(0.03 728.2 388.35)">200</text>
<text x="632.69" y="401.45" font-size="12.2" font-style="italic" textLength="6.92" lengthAdjust="spacingAndGlyphs" transform="rotate(0.03 632.69 401.45)" xml:space="preserve">σ</text>
<text x="640.5" y="404.26" font-size="8.91" font-style="italic" textLength="3.7" lengthAdjust="spacingAndGlyphs" transform="rotate(0.03 640.5 404.26)" xml:space="preserve">r</text>
<text x="649.5" y="401.45" font-size="12.2" textLength="58.7" lengthAdjust="spacingAndGlyphs" transform="rotate(0.03 649.5 401.45)" xml:space="preserve">(light days)</text>
</svg>
</body></html>
